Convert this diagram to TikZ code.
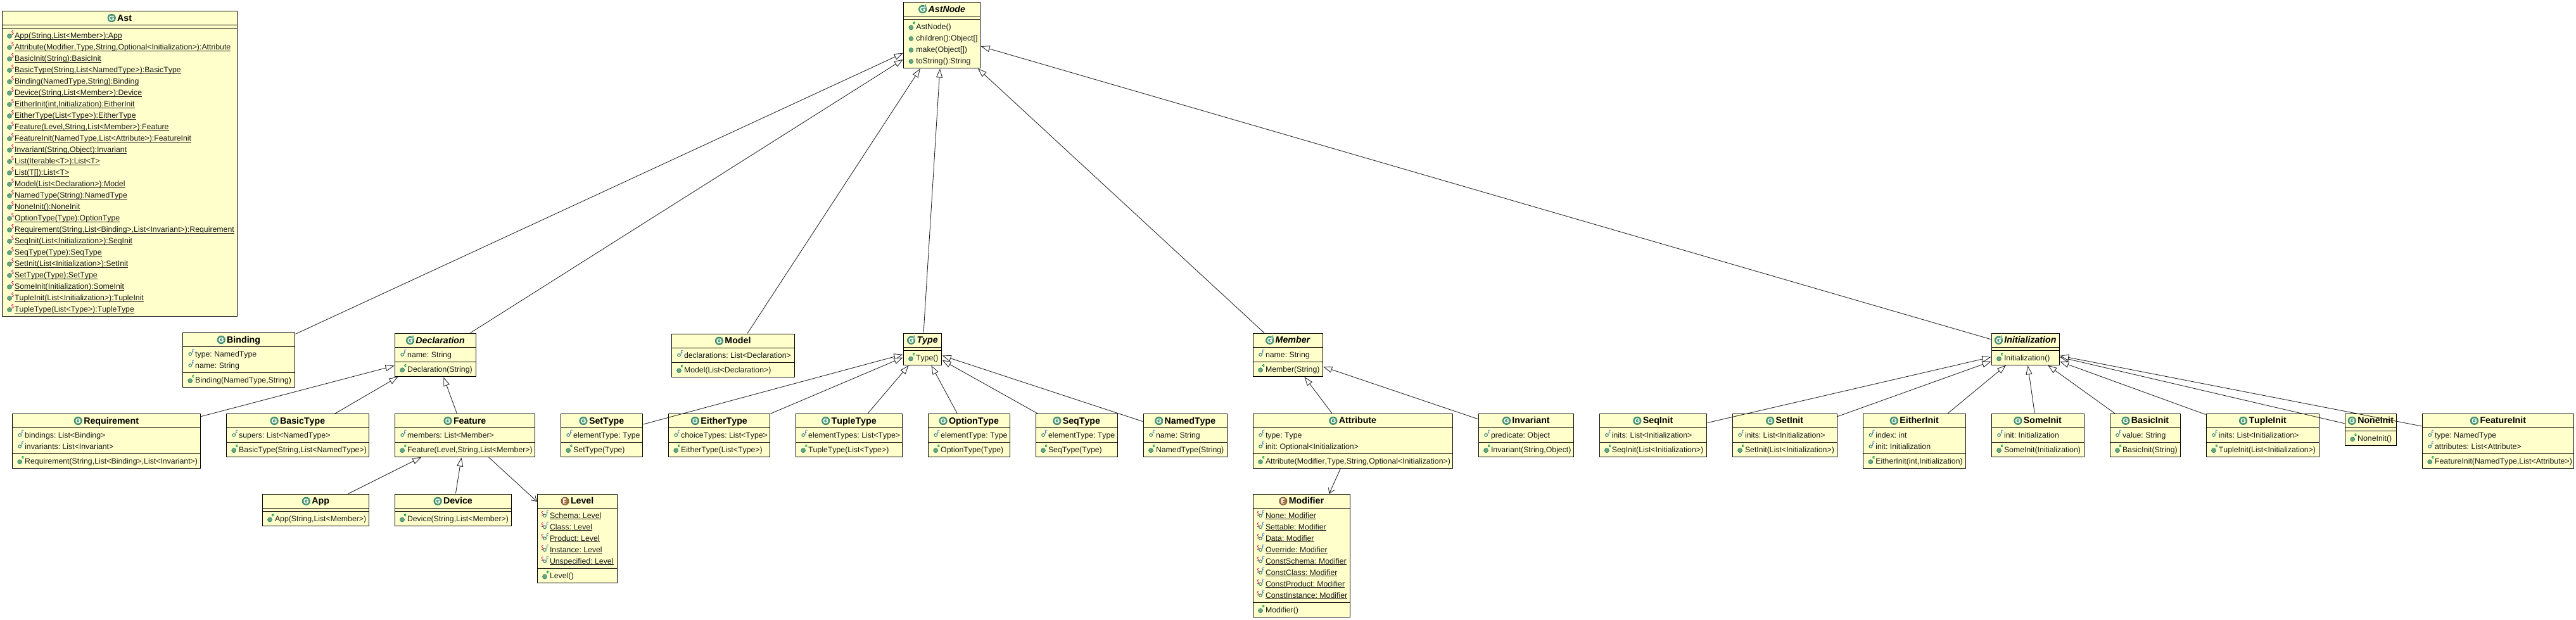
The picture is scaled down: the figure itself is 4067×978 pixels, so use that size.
\documentclass[tikz,border=0pt]{standalone}
\usepackage{fontspec}
\setmainfont[Ligatures=NoCommon,Kerning=Off]{Liberation Sans}
\usetikzlibrary{arrows.meta}
\definecolor{boxfill}{HTML}{FFFFCC}
\definecolor{ballfill}{HTML}{66A683}
\definecolor{balldraw}{HTML}{2F7F5F}
\definecolor{ctorgreen}{HTML}{009A3E}
\definecolor{staticred}{HTML}{D0105A}
\definecolor{finalblue}{HTML}{3A70C8}
\definecolor{headgreen}{HTML}{4E9B78}
\definecolor{headbrown}{HTML}{A5703F}
\definecolor{linecol}{HTML}{222222}
\newcommand\ulmem[1]{\setbox0\hbox{#1}\rlap{\rule[-2.2pt]{\wd0}{0.9pt}}\box0}
\newcommand\iconS[2]{\draw[staticred,line width=.7pt,shift={(#1,#2)}] (-1.9,-7) .. controls (-2.4,-7.9) and (-4.7,-7.9) .. (-4.7,-6) .. controls (-4.7,-4) and (-1.9,-5) .. (-1.9,-3) .. controls (-1.9,-1) and (-4.4,-1) .. (-4.8,-2.2);}
\newcommand\iconF{\draw[finalblue,line width=.75pt] (-1.7,-7.4) -- (-4.2,-7.4) -- (-5.1,-.6) (-4.7,-3.9) -- (-2.6,-3.9);}
\newcommand\iconC{\draw[ctorgreen,line width=1.1pt,line join=round] (-1.8,-6.5) -- (-3,-7.1) -- (-4.3,-6.4) -- (-4.3,-4.9) -- (-3,-4.2) -- (-1.8,-4.8);}
\newcommand\headC{\draw[draw=balldraw,fill=headgreen,line width=.7pt] (0,0) circle[radius=6.2pt];
  \draw[white,line width=1.5pt] (3,-1.6) -- (1.4,-3) -- (-1.4,-3) -- (-3,-1.4) -- (-3,1.4) -- (-1.4,3) -- (1.4,3) -- (3,1.4) -- (3,0) -- (.4,0);}
\tikzset{
  x=1pt,y=-1pt,
  classbox/.style={draw=black,fill=boxfill,line width=1pt,rectangle,inner sep=0pt,outer sep=0pt},
  sepline/.style={draw=black,line width=1pt},
  rowtext/.style={inner sep=0pt,outer sep=0pt,anchor=base west,text=black!90,font=\fontsize{12.3}{15}\selectfont\frenchspacing},
  icClass title/.style={font=\fontsize{14.2}{16}\selectfont\bfseries},
  icEnum title/.style={font=\fontsize{14.2}{16}\selectfont\bfseries},
  icAbstract title/.style={font=\fontsize{14.2}{16}\selectfont\bfseries\itshape},
  titletext/.style={inner sep=0pt,outer sep=0pt,anchor=base,text=black},
  gen/.style={draw=linecol,line width=.85pt,shorten <=1pt,shorten >=1pt,-{Triangle[open,fill=white,length=14pt,width=10pt,line width=.85pt]}},
  dep/.style={draw=linecol,line width=.85pt,shorten <=1pt,shorten >=.5pt,-{Straight Barb[length=8pt,width=10pt,line width=.85pt]}},
  icClass/.pic={\headC},
  icAbstract/.pic={\headC
    \draw[white,line width=1.8pt] (3.2,-2) -- (4.6,-7.5) -- (6,-2);
    \draw[headgreen,line width=.7pt] (3.2,-2) -- (4.6,-7.5) -- (6,-2) (3.8,-3.6) -- (5.4,-3.6);},
  icEnum/.pic={\draw[draw=headbrown!70!black,fill=headbrown,line width=.7pt] (0,0) circle[radius=6.2pt];
    \draw[white,line width=1.4pt] (2.4,-3.2) -- (-2,-3.2) -- (-2,3.2) -- (2.4,3.2) (-2,0) -- (1.8,0);},
  icMethod/.pic={\draw[draw=balldraw,fill=ballfill,line width=.6pt] (-8,1) circle[radius=3.5pt];},
  icCtor/.pic={\draw[draw=balldraw,fill=ballfill,line width=.6pt] (-8,1.5) circle[radius=3.5pt];\iconC},
  icStatic/.pic={\draw[draw=balldraw,fill=ballfill,line width=.6pt] (-8.2,1) circle[radius=3.5pt];\iconS{0}{0}},
  icField/.pic={\draw[draw=balldraw,fill=white!60!boxfill,line width=1pt] (-8,.3) circle[radius=2.3pt];\iconF},
  icConst/.pic={\draw[draw=balldraw,fill=white!60!boxfill,line width=1pt] (-8,.6) circle[radius=2.3pt];\iconF\iconS{-8.4}{1.4}},
}
% name, x1, y1, x2, y2, kind, title, separators
\newcommand\umlclass[8]{%
  \gdef\umlx{#2}%
  \node[classbox,minimum width={(#4-#2)*1pt},minimum height={(#5-#3)*1pt}] (#1) at ({(#2+#4)/2},{(#3+#5)/2}) {};
  \node[titletext,#6 title] (#1-title) at ({(#2+#4)/2+7.65},{#3+15.6}) {#7};
  \pic at ([shift={(-9,-4.6)}]#1-title.base west) {#6};
  \foreach \s in {#8} {\draw[sepline] (#2,\s) -- (#4,\s);}
}
% [wrapper] name, first row centre, icon, rows
\newcommand\umlrows[5][\relax]{%
  \foreach \t [count=\i] in {#5} {
    \pgfmathsetmacro\rowy{#3+18*(\i-1)}
    \pgfmathsetmacro\rowx{\umlx+19.7}
    \pic at (\rowx,\rowy) {#4};
    \node[rowtext] (#2-#4-\i) at (\rowx,\rowy+4.3) {#1{\t}};
  }
}
\begin{document}
\begin{tikzpicture}[x=1pt,y=-1pt]
\useasboundingbox[fill=white] (0,0) rectangle (4067,978);

\umlclass{Ast}{3.5}{17.5}{374.5}{499}{icClass}{Ast}{39.5,44.5}
\umlrows[\ulmem]{Ast}{56}{icStatic}{{App(String,List<Member>):App},{Attribute(Modifier,Type,String,Optional<Initialization>):Attribute},{BasicInit(String):BasicInit},{BasicType(String,List<NamedType>):BasicType},{Binding(NamedType,String):Binding},{Device(String,List<Member>):Device},{EitherInit(int,Initialization):EitherInit},{EitherType(List<Type>):EitherType},{Feature(Level,String,List<Member>):Feature},{FeatureInit(NamedType,List<Attribute>):FeatureInit},{Invariant(String,Object):Invariant},{List(Iterable<T>):List<T>},{List(T[]):List<T>},{Model(List<Declaration>):Model},{NamedType(String):NamedType},{NoneInit():NoneInit},{OptionType(Type):OptionType},{Requirement(String,List<Binding>,List<Invariant>):Requirement},{SeqInit(List<Initialization>):SeqInit},{SeqType(Type):SeqType},{SetInit(List<Initialization>):SetInit},{SetType(Type):SetType},{SomeInit(Initialization):SomeInit},{TupleInit(List<Initialization>):TupleInit},{TupleType(List<Type>):TupleType}}

\umlclass{AstNode}{1426.7}{3.5}{1547.7}{107.5}{icAbstract}{AstNode}{25,30}
\umlrows{AstNode}{42}{icCtor}{{AstNode()}}
\umlrows{AstNode}{60}{icMethod}{{children():Object[]},{make(Object[])},{toString():String}}

\umlclass{Binding}{288.5}{525.5}{465.5}{611.5}{icClass}{Binding}{547.5,588.5}
\umlrows{Binding}{558.7}{icField}{{type: NamedType},{name: String}}
\umlrows{Binding}{599.7}{icCtor}{{Binding(NamedType,String)}}

\umlclass{Declaration}{623.5}{526.5}{751.5}{594.5}{icAbstract}{Declaration}{548.5,571.5}
\umlrows{Declaration}{559.7}{icField}{{name: String}}
\umlrows{Declaration}{582.7}{icCtor}{{Declaration(String)}}

\umlclass{Model}{1060.3}{527.3}{1254.3}{595.3}{icClass}{Model}{549.3,572.3}
\umlrows{Model}{560.7}{icField}{{declarations: List<Declaration>}}
\umlrows{Model}{583.7}{icCtor}{{Model(List<Declaration>)}}

\umlclass{Type}{1426.3}{526.3}{1486.7}{576.3}{icAbstract}{Type}{548.3,553.3}
\umlrows{Type}{565}{icCtor}{{Type()}}

\umlclass{Member}{1978.3}{526.3}{2088.3}{594.3}{icAbstract}{Member}{548.3,571.3}
\umlrows{Member}{559.7}{icField}{{name: String}}
\umlrows{Member}{582.7}{icCtor}{{Member(String)}}

\umlclass{Initialization}{3144.3}{526.3}{3251.3}{576.3}{icAbstract}{Initialization}{548.3,553.3}
\umlrows{Initialization}{565}{icCtor}{{Initialization()}}

\umlclass{Requirement}{19.5}{653.5}{316.5}{739.5}{icClass}{Requirement}{675.5,716.5}
\umlrows{Requirement}{686.7}{icField}{{bindings: List<Binding>},{invariants: List<Invariant>}}
\umlrows{Requirement}{727.7}{icCtor}{{Requirement(String,List<Binding>,List<Invariant>)}}

\umlclass{BasicType}{357.5}{653.5}{582.5}{721.5}{icClass}{BasicType}{675.5,698.5}
\umlrows{BasicType}{686.7}{icField}{{supers: List<NamedType>}}
\umlrows{BasicType}{709.7}{icCtor}{{BasicType(String,List<NamedType>)}}

\umlclass{Feature}{623.5}{653.5}{844.5}{721.5}{icClass}{Feature}{675.5,698.5}
\umlrows{Feature}{686.7}{icField}{{members: List<Member>}}
\umlrows{Feature}{709.7}{icCtor}{{Feature(Level,String,List<Member>)}}

\umlclass{SetType}{885.5}{653.5}{1014.5}{721.5}{icClass}{SetType}{675.5,698.5}
\umlrows{SetType}{686.7}{icField}{{elementType: Type}}
\umlrows{SetType}{709.7}{icCtor}{{SetType(Type)}}

\umlclass{EitherType}{1055.5}{653.5}{1215.5}{721.5}{icClass}{EitherType}{675.5,698.5}
\umlrows{EitherType}{686.7}{icField}{{choiceTypes: List<Type>}}
\umlrows{EitherType}{709.7}{icCtor}{{EitherType(List<Type>)}}

\umlclass{TupleType}{1256.5}{653.5}{1424.5}{721.5}{icClass}{TupleType}{675.5,698.5}
\umlrows{TupleType}{686.7}{icField}{{elementTypes: List<Type>}}
\umlrows{TupleType}{709.7}{icCtor}{{TupleType(List<Type>)}}

\umlclass{OptionType}{1465.5}{653.5}{1594.3}{721.5}{icClass}{OptionType}{675.5,698.5}
\umlrows{OptionType}{686.7}{icField}{{elementType: Type}}
\umlrows{OptionType}{709.7}{icCtor}{{OptionType(Type)}}

\umlclass{SeqType}{1635.3}{653.5}{1764.3}{721.5}{icClass}{SeqType}{675.5,698.5}
\umlrows{SeqType}{686.7}{icField}{{elementType: Type}}
\umlrows{SeqType}{709.7}{icCtor}{{SeqType(Type)}}

\umlclass{NamedType}{1805.3}{653.5}{1937.3}{721.5}{icClass}{NamedType}{675.5,698.5}
\umlrows{NamedType}{686.7}{icField}{{name: String}}
\umlrows{NamedType}{709.7}{icCtor}{{NamedType(String)}}

\umlclass{Attribute}{1978.3}{653.3}{2293.3}{739.3}{icClass}{Attribute}{675.3,716.3}
\umlrows{Attribute}{686.7}{icField}{{type: Type},{init: Optional<Initialization>}}
\umlrows{Attribute}{727.7}{icCtor}{{Attribute(Modifier,Type,String,Optional<Initialization>)}}

\umlclass{Invariant}{2334.3}{653.3}{2484.5}{721.3}{icClass}{Invariant}{675.3,698.3}
\umlrows{Invariant}{686.7}{icField}{{predicate: Object}}
\umlrows{Invariant}{709.7}{icCtor}{{Invariant(String,Object)}}

\umlclass{SeqInit}{2525.2}{653.3}{2694.6}{721.3}{icClass}{SeqInit}{675.3,698.3}
\umlrows{SeqInit}{686.7}{icField}{{inits: List<Initialization>}}
\umlrows{SeqInit}{709.7}{icCtor}{{SeqInit(List<Initialization>)}}

\umlclass{SetInit}{2735.3}{653.3}{2900.2}{721.3}{icClass}{SetInit}{675.3,698.3}
\umlrows{SetInit}{686.7}{icField}{{inits: List<Initialization>}}
\umlrows{SetInit}{709.7}{icCtor}{{SetInit(List<Initialization>)}}

\umlclass{EitherInit}{2941.6}{653.3}{3103.3}{739.3}{icClass}{EitherInit}{675.3,716.3}
\umlrows{EitherInit}{686.7}{icField}{{index: int},{init: Initialization}}
\umlrows{EitherInit}{727.7}{icCtor}{{EitherInit(int,Initialization)}}

\umlclass{SomeInit}{3144.3}{653.3}{3290.2}{721.3}{icClass}{SomeInit}{675.3,698.3}
\umlrows{SomeInit}{686.7}{icField}{{init: Initialization}}
\umlrows{SomeInit}{709.7}{icCtor}{{SomeInit(Initialization)}}

\umlclass{BasicInit}{3331.3}{653.3}{3442.5}{721.3}{icClass}{BasicInit}{675.3,698.3}
\umlrows{BasicInit}{686.7}{icField}{{value: String}}
\umlrows{BasicInit}{709.7}{icCtor}{{BasicInit(String)}}

\umlclass{TupleInit}{3483.2}{653.3}{3661.7}{721.3}{icClass}{TupleInit}{675.3,698.3}
\umlrows{TupleInit}{686.7}{icField}{{inits: List<Initialization>}}
\umlrows{TupleInit}{709.7}{icCtor}{{TupleInit(List<Initialization>)}}

\umlclass{NoneInit}{3702.5}{653.3}{3783.5}{703.3}{icClass}{NoneInit}{675.3,680.3}
\umlrows{NoneInit}{692}{icCtor}{{NoneInit()}}

\umlclass{FeatureInit}{3824.4}{653.3}{4063.8}{739.3}{icClass}{FeatureInit}{675.3,716.3}
\umlrows{FeatureInit}{686.7}{icField}{{type: NamedType},{attributes: List<Attribute>}}
\umlrows{FeatureInit}{727.7}{icCtor}{{FeatureInit(NamedType,List<Attribute>)}}

\umlclass{App}{414.3}{780.3}{582.7}{830.3}{icClass}{App}{802.3,807.3}
\umlrows{App}{819}{icCtor}{{App(String,List<Member>)}}

\umlclass{Device}{623.3}{780.3}{807.3}{830.3}{icClass}{Device}{802.3,807.3}
\umlrows{Device}{819}{icCtor}{{Device(String,List<Member>)}}

\umlclass{Level}{848.3}{780.3}{974.7}{920.3}{icEnum}{Level}{802.3,897.3}
\umlrows[\ulmem]{Level}{813.7}{icConst}{{Schema: Level},{Class: Level},{Product: Level},{Instance: Level},{Unspecified: Level}}
\umlrows{Level}{909}{icCtor}{{Level()}}

\umlclass{Modifier}{1978.3}{780.3}{2131.3}{974.3}{icEnum}{Modifier}{802.3,951.3}
\umlrows[\ulmem]{Modifier}{813.7}{icConst}{{None: Modifier},{Settable: Modifier},{Data: Modifier},{Override: Modifier},{ConstSchema: Modifier},{ConstClass: Modifier},{ConstProduct: Modifier},{ConstInstance: Modifier}}
\umlrows{Modifier}{962.7}{icCtor}{{Modifier()}}

% connectors
\foreach \c in {Binding,Declaration,Model,Type,Member,Initialization} \draw[gen] (\c) -- (AstNode);
\foreach \c in {Requirement,BasicType,Feature} \draw[gen] (\c) -- (Declaration);
\foreach \c in {App,Device} \draw[gen] (\c) -- (Feature);
\draw[dep] (Feature) -- (Level);
\foreach \c in {SetType,EitherType,TupleType,OptionType,SeqType,NamedType} \draw[gen] (\c) -- (Type);
\foreach \c in {Attribute,Invariant} \draw[gen] (\c) -- (Member);
\draw[dep] (Attribute) -- (Modifier);
\foreach \c in {SeqInit,SetInit,EitherInit,SomeInit,BasicInit,TupleInit,NoneInit,FeatureInit} \draw[gen] (\c) -- (Initialization);
\end{tikzpicture}
\end{document}
